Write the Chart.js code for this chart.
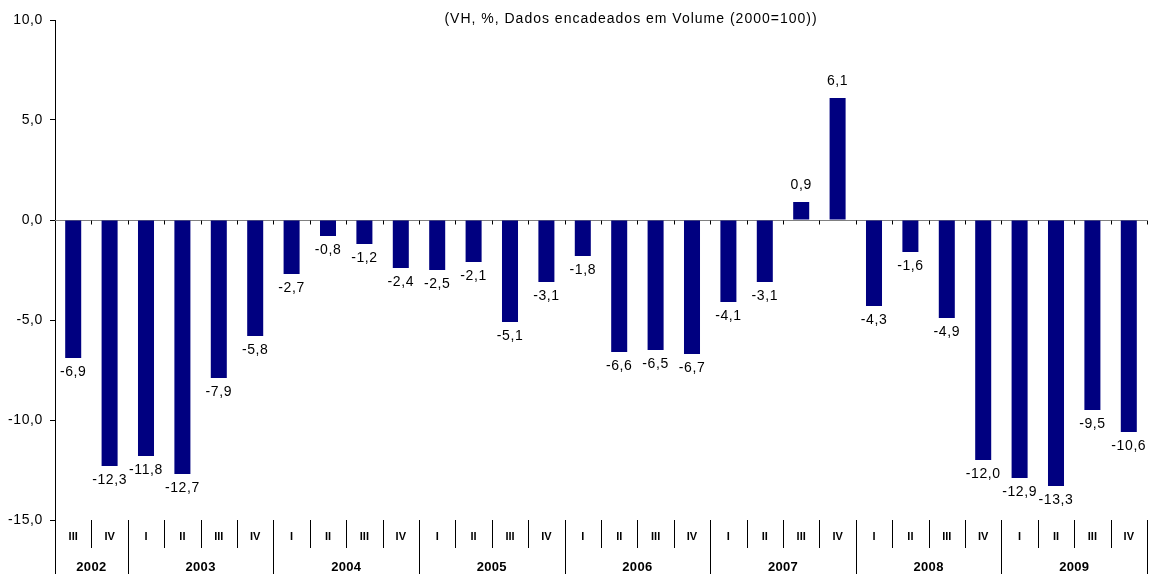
<!DOCTYPE html>
<html><head><meta charset="utf-8">
<script src="https://cdn.jsdelivr.net/npm/chart.js@4"></script>
<style>html,body{margin:0;padding:0;background:#fff;}#wrap{width:1151px;height:574px;position:relative;}</style>
</head><body><div id="wrap"><canvas id="c"></canvas></div>
<script>
const quarters = ["III","IV","I","II","III","IV","I","II","III","IV","I","II","III","IV","I","II","III","IV","I","II","III","IV","I","II","III","IV","I","II","III","IV"];
const years = ["2002","2002","2003","2003","2003","2003","2004","2004","2004","2004","2005","2005","2005","2005","2006","2006","2006","2006","2007","2007","2007","2007","2008","2008","2008","2008","2009","2009","2009","2009"];
const values = [-6.9,-12.3,-11.8,-12.7,-7.9,-5.8,-2.7,-0.8,-1.2,-2.4,-2.5,-2.1,-5.1,-3.1,-1.8,-6.6,-6.5,-6.7,-4.1,-3.1,0.9,6.1,-4.3,-1.6,-4.9,-12.0,-12.9,-13.3,-9.5,-10.6];
const yTicks = [-15,-10,-5,0,5,10];
const title = "(VH, %, Dados encadeados em Volume (2000=100))";
const FONT = "'Liberation Sans', Arial, sans-serif";
const fmt = v => v.toFixed(1).replace('.', ',');

const custom = {
  id: 'custom',
  beforeDraw(chart) {
    chart.ctx.letterSpacing = '0.6px';
  },
  beforeDatasetsDraw(chart) {
    const ctx = chart.ctx, y = chart.scales.y, ca = chart.chartArea;
    const y0 = Math.round(y.getPixelForValue(0)) + 0.5;
    ctx.save();
    ctx.strokeStyle = '#808080'; ctx.lineWidth = 1;
    ctx.beginPath(); ctx.moveTo(ca.left, y0); ctx.lineTo(ca.right, y0); ctx.stroke();
    ctx.restore();
  },
  afterDatasetsDraw(chart) {
    const ctx = chart.ctx, x = chart.scales.x, y = chart.scales.y, ca = chart.chartArea;
    const n = values.length;
    const step = (x.getPixelForValue(1) - x.getPixelForValue(0));
    const y0 = Math.round(y.getPixelForValue(0)) + 0.5;
    ctx.save();
    ctx.letterSpacing = '0.6px';
    ctx.strokeStyle = '#000'; ctx.lineWidth = 1;
    ctx.beginPath();
    for (let i = 1; i <= n; i++) {
      const bx = Math.round(x.getPixelForValue(i) - step/2) + 0.5;
      ctx.moveTo(bx, y0); ctx.lineTo(bx, y0 + 4);
    }
    ctx.stroke();
    // left axis extension
    ctx.beginPath(); ctx.moveTo(ca.left + 0.5, ca.bottom); ctx.lineTo(ca.left + 0.5, 574); ctx.stroke();
    // data labels
    ctx.fillStyle = '#000'; ctx.font = '14px ' + FONT; ctx.textAlign = 'center'; ctx.textBaseline = 'middle';
    values.forEach((v, i) => {
      const px = x.getPixelForValue(i), py = y.getPixelForValue(v);
      if (v >= 0) ctx.fillText(fmt(v), px, py - 17);
      else ctx.fillText(fmt(v), px, py + 14);
    });
    // category labels
    const rowTop = ca.bottom;
    ctx.letterSpacing = '0px';
    ctx.font = 'bold 11px ' + FONT;
    quarters.forEach((q, i) => ctx.fillText(q, x.getPixelForValue(i), rowTop + 17));
    ctx.beginPath();
    for (let i = 1; i <= n; i++) {
      const bx = Math.round(x.getPixelForValue(i) - step/2) + 0.5;
      const yearEnd = (i === n) || years[i] !== years[i-1];
      ctx.moveTo(bx, rowTop); ctx.lineTo(bx, yearEnd ? 574 : rowTop + 28);
    }
    ctx.stroke();
    // year labels
    ctx.font = 'bold 13px ' + FONT;
    ctx.letterSpacing = '0.3px';
    let s = 0;
    for (let i = 1; i <= n; i++) {
      if (i === n || years[i] !== years[s]) {
        const cx = (x.getPixelForValue(s) + x.getPixelForValue(i-1)) / 2;
        ctx.fillText(years[s], cx, rowTop + 47);
        s = i;
      }
    }
    // title
    ctx.letterSpacing = '1px';
    ctx.font = '14px ' + FONT;
    ctx.fillText(title, 631, 19);
    ctx.restore();
  }
};

new Chart(document.getElementById('c'), {
  type: 'bar',
  data: { labels: quarters, datasets: [{ data: values, backgroundColor: '#000080', barPercentage: 0.88, categoryPercentage: 0.5 }] },
  options: {
    responsive: true, maintainAspectRatio: false, animation: false,
    layout: { padding: { top: 20, bottom: 54, right: 4, left: 0 } },
    plugins: { legend: { display: false }, tooltip: { enabled: false } },
    scales: {
      x: { display: false, offset: true },
      y: {
        min: -15, max: 10,
        afterBuildTicks: s => { s.ticks = yTicks.map(v => ({ value: v })); },
        afterFit: s => { s.width = 55; },
        ticks: { callback: v => fmt(v), color: '#000', font: { size: 14, family: FONT }, padding: 7 },
        grid: { drawOnChartArea: false, drawTicks: true, tickLength: 5, color: '#000' },
        border: { display: true, color: '#000' }
      }
    }
  },
  plugins: [custom]
});
</script></body></html>
